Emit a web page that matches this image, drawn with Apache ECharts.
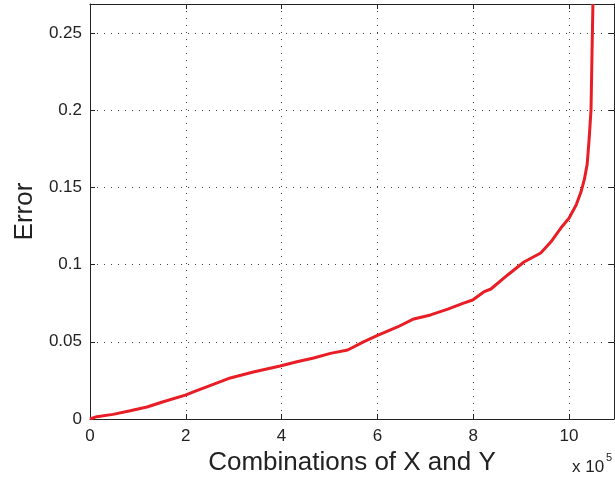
<!DOCTYPE html>
<html>
<head>
<meta charset="utf-8">
<script src="https://cdn.jsdelivr.net/npm/echarts@6/dist/echarts.min.js"></script>
<style>
  html, body { margin: 0; padding: 0; background: #fff; }
  #chart { width: 615px; height: 477px; }
</style>
</head>
<body>
<div id="chart"></div>
<script>
// Combinations (in units of 1e5), sorted error curve
const combos = [0, 0.14, 0.48, 0.84, 1.19, 1.53, 1.99, 2.2, 2.45, 2.93, 3.41, 3.97, 4.32, 4.67,
  5.02, 5.38, 5.71, 5.98, 6.42, 6.76, 7.11, 7.47, 7.80, 7.99, 8.22, 8.37, 8.72, 9.06, 9.41,
  9.62, 9.83, 10.0, 10.15, 10.25, 10.32, 10.38, 10.42, 10.46, 10.48, 10.50];
const errors = [0, 0.0015, 0.003, 0.0054, 0.0078, 0.0112, 0.0155, 0.018, 0.021, 0.0266, 0.0304,
  0.0343, 0.0371, 0.0395, 0.0425, 0.0447, 0.0499, 0.0538, 0.0596, 0.0648, 0.0674, 0.0712,
  0.0751, 0.0771, 0.0823, 0.0842, 0.0933, 0.1017, 0.1075, 0.1146, 0.1237, 0.130, 0.1386,
  0.147, 0.155, 0.165, 0.181, 0.20, 0.235, 0.2688];
const xTicks = [0, 2, 4, 6, 8, 10];
const yTicks = [0, 0.05, 0.1, 0.15, 0.2, 0.25];
const xMax = 10.94;
const yMax = 0.2688;

const font = 'Liberation Sans, Arial, Helvetica, sans-serif';
const points = combos.map((c, i) => [c, errors[i]]);

const gridDash = { color: '#444', type: [1, 6], width: 1 };

const chart = echarts.init(document.getElementById('chart'), null, { renderer: 'canvas' });
chart.setOption({
  animation: false,
  backgroundColor: '#fff',
  grid: { left: 90, right: 1, top: 4, bottom: 58, containLabel: false, outerBoundsMode: 'none' },
  xAxis: [{
    type: 'value', min: 0, max: xMax, interval: 2, position: 'bottom',
    name: 'Combinations of X and Y', nameLocation: 'middle', nameGap: 17,
    nameTextStyle: { fontFamily: font, fontSize: 26, color: '#222' },
    axisLine: { show: true, onZero: false, lineStyle: { color: '#222', width: 1 } },
    axisTick: { show: true, inside: true, length: 5, lineStyle: { color: '#222' } },
    axisLabel: {
      show: true, margin: 9, fontFamily: font, fontSize: 17, color: '#222',
      showMaxLabel: false,
      formatter: v => xTicks.includes(v) ? String(v) : ''
    },
    splitLine: { show: true, lineStyle: gridDash }
  }, {
    type: 'value', min: 0, max: xMax, interval: 2, position: 'top',
    axisLine: { show: true, onZero: false, lineStyle: { color: '#222', width: 1 } },
    axisTick: { show: true, inside: true, length: 5, lineStyle: { color: '#222' } },
    axisLabel: { show: false }, splitLine: { show: false }
  }],
  yAxis: [{
    type: 'value', min: 0, max: yMax, interval: 0.05, position: 'left',
    name: 'Error', nameLocation: 'middle', nameGap: 52, nameRotate: 90,
    nameTextStyle: { fontFamily: font, fontSize: 26, color: '#222' },
    axisLine: { show: true, onZero: false, lineStyle: { color: '#222', width: 1 } },
    axisTick: { show: true, inside: true, length: 5, lineStyle: { color: '#222' } },
    axisLabel: {
      show: true, margin: 8, fontFamily: font, fontSize: 17, color: '#222',
      showMaxLabel: false,
      formatter: v => yTicks.some(t => Math.abs(t - v) < 1e-9) ? String(+v.toFixed(2)) : ''
    },
    splitLine: { show: true, lineStyle: gridDash }
  }, {
    type: 'value', min: 0, max: yMax, interval: 0.05, position: 'right',
    axisLine: { show: true, onZero: false, lineStyle: { color: '#222', width: 1 } },
    axisTick: { show: true, inside: true, length: 5, lineStyle: { color: '#222' } },
    axisLabel: { show: false }, splitLine: { show: false }
  }],
  series: [{
    type: 'line',
    xAxisIndex: 0, yAxisIndex: 0,
    data: points,
    showSymbol: false,
    smooth: false,
    clip: true,
    lineStyle: { color: '#e91d25', width: 3 }
  }],
  graphic: [{
    type: 'text', left: 572, top: 459,
    style: { text: 'x 10', fontFamily: font, fontSize: 17, fill: '#222' }
  }, {
    type: 'text', left: 606, top: 452,
    style: { text: '5', fontFamily: font, fontSize: 11, fill: '#222' }
  }]
});
</script>
</body>
</html>
